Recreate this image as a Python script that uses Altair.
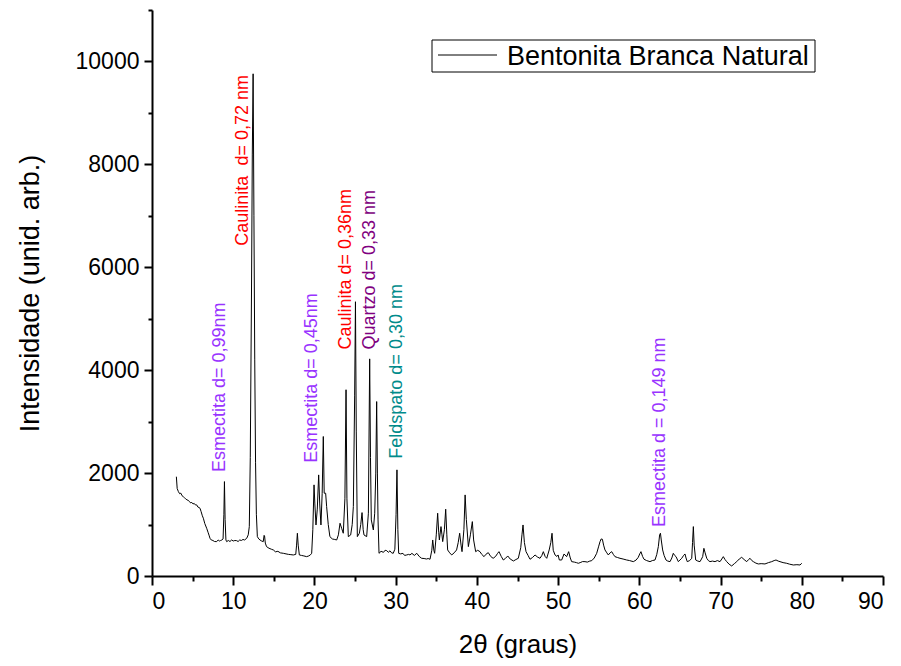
import altair as alt
import pandas as pd

two_theta = [
    3.0, 3.1, 3.25, 3.4, 3.55, 3.7, 3.86, 4.0, 4.15, 4.3, 4.45, 4.6, 4.75, 4.9, 5.05, 5.2, 5.35, 5.5, 5.65, 5.8,
    5.91, 6.05, 6.2, 6.32, 6.5, 6.73, 6.9, 7.05, 7.14, 7.3, 7.5, 7.7, 7.96, 8.15, 8.3, 8.45, 8.6, 8.75, 8.85, 8.92,
    9.0, 9.1, 9.19, 9.4, 9.6, 9.8, 10.0, 10.2, 10.42, 10.6, 10.8, 11.0, 11.2, 11.4, 11.66, 11.85, 11.98, 12.1, 12.25, 12.35,
    12.45, 12.55, 12.65, 12.75, 12.85, 12.97, 13.15, 13.3, 13.5, 13.7, 13.8, 13.86, 13.95, 14.1, 14.4, 14.7, 14.94, 15.2, 15.5, 15.8,
    16.17, 16.5, 16.8, 17.1, 17.4, 17.7, 17.8, 17.9, 18.0, 18.14, 18.4, 18.7, 19.04, 19.3, 19.5, 19.66, 19.8, 19.95, 20.05, 20.19,
    20.35, 20.52, 20.65, 20.8, 20.95, 21.09, 21.2, 21.38, 21.5, 21.7, 21.9, 22.2, 22.5, 22.74, 22.95, 23.15, 23.35, 23.55, 23.75, 23.89,
    24.0, 24.17, 24.46, 24.65, 24.79, 24.95, 25.05, 25.15, 25.28, 25.53, 25.7, 25.86, 26.0, 26.1, 26.43, 26.64, 26.8, 26.9, 27.0, 27.25,
    27.42, 27.55, 27.66, 27.75, 27.83, 27.95, 28.2, 28.5, 28.7, 28.9, 29.1, 29.3, 29.5, 29.7, 29.9, 30.05, 30.16, 30.27, 30.37, 30.6,
    30.9, 31.1, 31.36, 31.6, 31.76, 32.0, 32.3, 32.6, 32.9, 33.2, 33.5, 33.8, 34.0, 34.23, 34.45, 34.56, 34.7, 34.8, 35.0, 35.17,
    35.3, 35.38, 35.58, 35.7, 35.79, 36.0, 36.16, 36.3, 36.4, 36.65, 36.9, 37.2, 37.5, 37.7, 37.88, 38.05, 38.17, 38.4, 38.55, 38.7,
    38.95, 39.2, 39.44, 39.6, 39.85, 40.1, 40.38, 40.6, 40.88, 41.1, 41.4, 41.7, 42.0, 42.3, 42.55, 42.72, 43.0, 43.25, 43.5, 43.8,
    44.1, 44.5, 44.8, 45.1, 45.4, 45.55, 45.68, 45.85, 46.05, 46.3, 46.54, 46.85, 47.16, 47.45, 47.77, 48.0, 48.18, 48.4, 48.6, 48.9,
    49.1, 49.25, 49.4, 49.62, 49.85, 50.0, 50.15, 50.44, 50.73, 51.05, 51.3, 51.5, 51.67, 52.0, 52.25, 52.49, 52.8, 53.0, 53.31, 53.6,
    53.9, 54.14, 54.45, 54.75, 55.0, 55.16, 55.3, 55.45, 55.6, 55.77, 56.0, 56.18, 56.4, 56.6, 56.8, 57.0, 57.3, 57.62, 58.0, 58.44,
    58.8, 59.26, 59.6, 59.87, 60.05, 60.2, 60.4, 60.58, 60.9, 61.31, 61.6, 61.93, 62.15, 62.34, 62.5, 62.6, 62.7, 62.87, 63.05, 63.28,
    63.5, 63.78, 64.0, 64.18, 64.35, 64.52, 64.8, 65.0, 65.22, 65.45, 65.62, 65.75, 65.9, 66.2, 66.45, 66.55, 66.65, 66.75, 66.94, 67.2,
    67.47, 67.65, 67.8, 67.95, 68.1, 68.3, 68.5, 68.7, 69.0, 69.32, 69.6, 69.93, 70.15, 70.34, 70.55, 70.76, 71.05, 71.37, 71.7, 71.99,
    72.3, 72.6, 72.9, 73.22, 73.45, 73.63, 73.85, 74.04, 74.35, 74.65, 75.0, 75.47, 75.9, 76.3, 76.6, 76.83, 77.1, 77.32, 77.7, 78.14,
    78.5, 78.96, 79.4, 79.78, 80.0,
]

intensity = [
    1930, 1700, 1640, 1600, 1610, 1560, 1540, 1520, 1500, 1480, 1470, 1450, 1420, 1430, 1400, 1410, 1380, 1382, 1340, 1330,
    1317, 1250, 1170, 1123, 1020, 928, 850, 780, 733, 700, 690, 670, 668, 700, 680, 690, 700, 720, 1200, 1835,
    1100, 700, 668, 690, 670, 700, 680, 690, 687, 670, 700, 690, 710, 700, 733, 800, 960, 2300, 5500, 8200,
    9760, 7000, 4200, 2200, 1200, 765, 720, 700, 680, 668, 790, 778, 640, 571, 540, 520, 506, 470, 480, 450,
    441, 430, 420, 415, 409, 420, 600, 831, 600, 409, 400, 390, 376, 390, 410, 441, 900, 1771, 1400, 992,
    1300, 1965, 1400, 992, 1600, 2711, 1609, 1609, 1349, 1000, 765, 720, 710, 700, 800, 1025, 928, 831, 1500, 3620,
    1500, 765, 798, 1000, 1349, 3500, 5330, 2800, 765, 831, 1000, 1232, 900, 798, 765, 1220, 4220, 2300, 1090, 895,
    1220, 2000, 3390, 2000, 1090, 441, 480, 460, 500, 493, 460, 490, 450, 441, 520, 1200, 2063, 900, 441, 430,
    440, 400, 409, 420, 409, 440, 400, 441, 380, 344, 340, 330, 340, 325, 500, 700, 500, 441, 800, 1220,
    850, 700, 960, 800, 668, 900, 1298, 800, 506, 450, 409, 450, 506, 650, 831, 600, 473, 900, 1576, 1100,
    571, 800, 1057, 700, 473, 500, 473, 420, 376, 420, 454, 380, 344, 380, 440, 473, 380, 311, 340, 389,
    330, 292, 320, 344, 550, 800, 992, 650, 473, 400, 325, 360, 409, 370, 344, 400, 473, 380, 344, 506,
    650, 831, 500, 409, 380, 409, 311, 311, 428, 376, 473, 350, 279, 270, 260, 247, 265, 280, 279, 270,
    290, 298, 350, 441, 580, 668, 720, 714, 600, 506, 450, 409, 450, 473, 420, 376, 360, 344, 330, 311,
    300, 279, 310, 363, 430, 473, 380, 325, 300, 279, 300, 311, 420, 571, 800, 831, 700, 506, 400, 311,
    290, 279, 350, 441, 400, 376, 279, 310, 344, 400, 428, 350, 279, 300, 344, 650, 960, 600, 311, 290,
    279, 330, 376, 538, 450, 344, 300, 279, 290, 279, 300, 279, 330, 376, 320, 279, 230, 195, 240, 279,
    330, 363, 320, 279, 320, 344, 300, 279, 250, 234, 240, 234, 260, 279, 300, 311, 290, 279, 260, 247,
    230, 214, 220, 214, 247,
]

series_name = "Bentonita Branca Natural"

label_texts = [
    "Esmectita d= 0,99nm",
    "Caulinita\u00a0 d= 0,72 nm",
    "Esmectita d= 0,45nm",
    "Caulinita d= 0,36nm",
    "Quartzo d= 0,33 nm",
    "Feldspato d= 0,30 nm",
    "Esmectita d = 0,149 nm",
]
label_x = [8.4, 11.2, 19.7, 23.9, 26.85, 30.15, 62.55]
label_y = [2020, 6420, 2200, 4400, 4400, 2280, 950]
label_colors = ["#9933ff", "#ff0000", "#9933ff", "#ff0000", "#800080", "#008b8b", "#9933ff"]

df = pd.DataFrame({"x": two_theta, "y": intensity})
labels = pd.DataFrame({"t": label_texts, "x": label_x, "y": label_y, "c": label_colors})
legend_df = pd.DataFrame({"name": [series_name]})

FONT = "Liberation Sans"

x_enc = alt.X(
    "x:Q",
    scale=alt.Scale(domain=[0, 90], nice=False, zero=False),
    axis=alt.Axis(
        title="2θ (graus)",
        values=list(range(0, 91, 5)),
        labelExpr="datum.value % 10 === 0 ? datum.label : ''",
        tickSize={"condition": {"test": "datum.value % 10 === 0", "value": 9}, "value": 5},
        grid=False,
        labelFontSize=23,
        titleFontSize=26,
        titleFontWeight="normal",
        titlePadding=18,
        labelPadding=5,
    ),
)
y_enc = alt.Y(
    "y:Q",
    scale=alt.Scale(domain=[0, 11000], nice=False),
    axis=alt.Axis(
        title="Intensidade (unid. arb.)",
        values=list(range(0, 11001, 1000)),
        labelExpr="datum.value % 2000 === 0 ? datum.label : ''",
        format="d",
        tickSize={"condition": {"test": "datum.value % 2000 === 0", "value": 8}, "value": 4},
        grid=False,
        labelFontSize=23,
        titleFontSize=27,
        titleFontWeight="normal",
        titlePadding=31,
        labelPadding=5,
    ),
)

line = alt.Chart(df).mark_line(strokeWidth=1, color="black").encode(x=x_enc, y=y_enc)

text = alt.Chart(labels).mark_text(
    angle=270, align="left", baseline="middle", fontSize=18, font=FONT
).encode(
    x="x:Q",
    y="y:Q",
    text="t:N",
    color=alt.Color("c:N", scale=None, legend=None),
)

# legend box drawn as decoration
leg_box = alt.Chart(legend_df).mark_rect(fill="white", stroke="black", strokeWidth=1).encode(
    x=alt.value(280), x2=alt.value(663), y=alt.value(30), y2=alt.value(62)
)
leg_line = alt.Chart(legend_df).mark_rule(color="black", strokeWidth=1).encode(
    x=alt.value(286), x2=alt.value(345), y=alt.value(45)
)
leg_text = alt.Chart(legend_df).mark_text(
    align="left", baseline="middle", fontSize=27, font=FONT, color="black"
).encode(x=alt.value(355), y=alt.value(47), text="name:N")

chart = (
    alt.layer(line, text, leg_box, leg_line, leg_text)
    .properties(
        width=731,
        height=566,
        autosize=alt.AutoSizeParams(type="none"),
        padding={"left": 144, "top": 2, "right": 10, "bottom": 82},
        background="white",
    )
    .configure_view(stroke=None)
    .configure_axis(
        domainColor="black",
        domainWidth=2,
        tickColor="black",
        tickWidth=2,
        labelColor="black",
        titleColor="black",
        labelFont=FONT,
        titleFont=FONT,
    )
)

chart.save("out.html", embed_options={"renderer": "svg", "actions": False})
